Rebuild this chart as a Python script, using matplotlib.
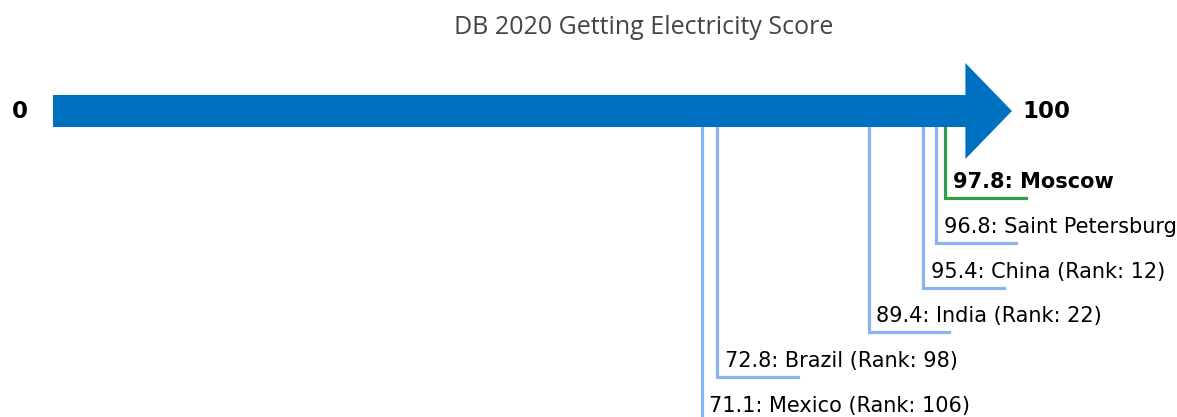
import matplotlib
matplotlib.use("Agg")
import matplotlib.pyplot as plt
from matplotlib.patches import FancyArrow

plt.rcParams["font.family"] = ["DejaVu Sans"]

# scores
places = ["Moscow", "Saint Petersburg", "China (Rank: 12)", "India (Rank: 22)",
          "Brazil (Rank: 98)", "Mexico (Rank: 106)"]
scores = [97.8, 96.8, 95.4, 89.4, 72.8, 71.1]
highlight = ["Moscow"]

title = "DB 2020 Getting Electricity Score"
scale_min, scale_max = 0, 100

W, H = 1177, 417
fig = plt.figure(figsize=(W / 100, H / 100), dpi=100)
ax = fig.add_axes([0, 0, 1, 1])

# x in score units, y in pixel rows (top = 0)
px_per_unit = 9.124
x0 = 53
ax.set_xlim(-x0 / px_per_unit, (W - x0) / px_per_unit)
ax.set_ylim(H, 0)
ax.axis("off")

y_arrow = 111
arrow = FancyArrow(scale_min, y_arrow, scale_max - scale_min, 0,
                   width=32, head_width=96, head_length=5.1,
                   length_includes_head=False, color="#0070c0", lw=0, zorder=3)
ax.add_patch(arrow)

ax.text(scale_min - 3.6, y_arrow, str(scale_min), fontsize=16.5, fontweight="bold",
        ha="center", va="center")
ax.text(scale_max + 6.2, y_arrow, str(scale_max), fontsize=16.5, fontweight="bold",
        ha="left", va="center")

# leader lines, one level per label
level0, step = 198, 44.8
seg = 8.8
for i, (name, val) in enumerate(zip(places, scores)):
    y = level0 + i * step
    hot = name in highlight
    col = "#2e9e48" if hot else "#8ab4f0"
    ax.plot([val, val, val + seg], [y_arrow, y, y], color=col, lw=2.3,
            zorder=2, solid_joinstyle="miter", clip_on=False)
    ax.text(val + 0.8, y - 10, f"{val}: {name}", fontsize=15,
            fontweight="bold" if hot else "normal", ha="left", va="baseline")

fig.text(644 / W, 1 - 27 / H, title, family=["Open Sans", "DejaVu Sans"],
         fontsize=18, color="#444444", ha="center", va="center")

fig.savefig("out.png", dpi=100)
